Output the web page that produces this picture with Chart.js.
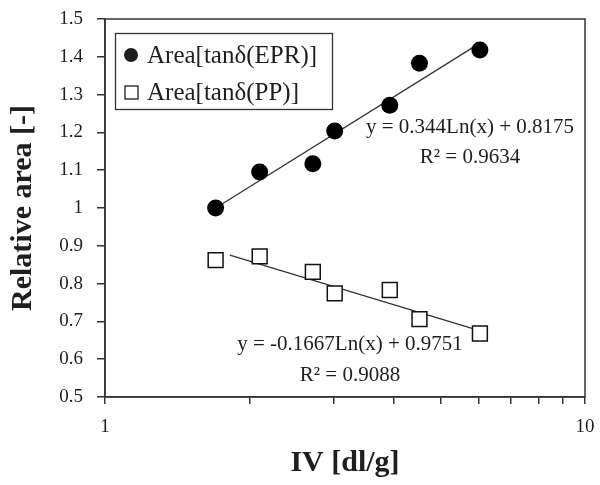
<!DOCTYPE html>
<html>
<head>
<meta charset="utf-8">
<script src="https://cdn.jsdelivr.net/npm/chart.js@4/dist/chart.umd.min.js"></script>
<style>
  html, body { margin: 0; padding: 0; background: #fff; }
  #wrap { width: 600px; height: 485px; }
</style>
</head>
<body>
<div id="wrap"><canvas id="myChart"></canvas></div>
<script>
// data
const ivValues = [1.70, 2.10, 2.71, 3.01, 3.92, 4.52, 6.04];
const areaEPR = [1.000, 1.095, 1.117, 1.204, 1.272, 1.383, 1.418];
const areaPP = [0.862, 0.872, 0.831, 0.774, 0.783, 0.706, 0.668];
const yTicks = [0.5, 0.6, 0.7, 0.8, 0.9, 1, 1.1, 1.2, 1.3, 1.4, 1.5];
const xTicks = [1, 2, 3, 4, 5, 6, 7, 8, 9, 10];
const xLabels = [1, 10];

// log trend lines, y = a*ln(x) + b
const trendEPR = { a: 0.344, b: 0.8175, from: 1.70, to: 6.04 };
const trendPP = { a: -0.1667, b: 0.9751, from: 1.82, to: 6.10 };
const seriesNames = ['Area[tanδ(EPR)]', 'Area[tanδ(PP)]'];
const eqTexts = [
  ['y = 0.344Ln(x) + 0.8175', 'R² = 0.9634'],
  ['y = -0.1667Ln(x) + 0.9751', 'R² = 0.9088']
];

const serif = '"Liberation Serif", "DejaVu Serif", serif';
const ink = '#1e1e1e';

function trendPoints(t) {
  return [t.from, t.to].map(x => ({ x: x, y: t.a * Math.log(x) + t.b }));
}

// legend box, equations and plot frame
const extras = {
  id: 'extras',
  afterDatasetsDraw(chart) {
    const ctx = chart.ctx;
    const a = chart.chartArea;
    ctx.save();
    ctx.strokeStyle = '#333';
    ctx.lineWidth = 1.5;
    ctx.strokeRect(a.left, a.top, a.right - a.left, a.bottom - a.top);

    // legend
    ctx.lineWidth = 1.3;
    ctx.strokeRect(115.5, 33.5, 217, 76);
    ctx.font = '25px ' + serif;
    ctx.fillStyle = ink;
    ctx.textBaseline = 'middle';
    ctx.textAlign = 'left';
    ctx.beginPath();
    ctx.arc(131, 55, 7, 0, Math.PI * 2);
    ctx.fill();
    ctx.fillText(seriesNames[0], 147, 56);
    ctx.strokeStyle = ink;
    ctx.lineWidth = 1.3;
    ctx.strokeRect(125, 86, 13, 13);
    ctx.fillText(seriesNames[1], 147, 93);

    // equations
    ctx.font = '21px ' + serif;
    ctx.textAlign = 'center';
    ctx.fillText(eqTexts[0][0], 470, 127);
    ctx.fillText(eqTexts[0][1], 470, 157);
    ctx.fillText(eqTexts[1][0], 350, 344);
    ctx.fillText(eqTexts[1][1], 350, 375);
    ctx.restore();
  }
};

const ctx = document.getElementById('myChart').getContext('2d');
new Chart(ctx, {
  type: 'scatter',
  data: {
    datasets: [
      {
        label: seriesNames[0],
        data: ivValues.map((x, i) => ({ x: x, y: areaEPR[i] })),
        pointStyle: 'circle',
        pointRadius: 8.5,
        backgroundColor: '#000',
        borderColor: '#000',
        borderWidth: 0
      },
      {
        label: seriesNames[1],
        data: ivValues.map((x, i) => ({ x: x, y: areaPP[i] })),
        pointStyle: 'rect',
        pointRadius: 10.5,
        backgroundColor: '#fff',
        borderColor: '#111',
        borderWidth: 1.5
      },
      {
        label: 'trend EPR',
        data: trendPoints(trendEPR),
        showLine: true,
        pointRadius: 0,
        borderColor: '#333',
        borderWidth: 1.3
      },
      {
        label: 'trend PP',
        data: trendPoints(trendPP),
        showLine: true,
        pointRadius: 0,
        borderColor: '#333',
        borderWidth: 1.3
      }
    ]
  },
  options: {
    responsive: true,
    maintainAspectRatio: false,
    animation: false,
    layout: { padding: { left: 0, top: 19, right: 15, bottom: 0 } },
    plugins: {
      legend: { display: false },
      tooltip: { enabled: false }
    },
    scales: {
      x: {
        type: 'logarithmic',
        min: 1,
        max: 10,
        afterFit: (scale) => {
          scale.height = 88;
          scale.paddingLeft = 0;
          scale.paddingRight = 0;
        },
        afterBuildTicks: (scale) => { scale.ticks = xTicks.map(v => ({ value: v })); },
        ticks: {
          autoSkip: false,
          maxRotation: 0,
          padding: 12,
          color: ink,
          font: { family: serif, size: 19 },
          callback: (v) => xLabels.includes(v) ? String(v) : ''
        },
        grid: { drawOnChartArea: false, tickLength: 7, color: '#333', lineWidth: 1.5 },
        border: { color: '#333', width: 1.5 },
        title: {
          display: true,
          text: 'IV [dl/g]',
          color: ink,
          font: { family: serif, size: 30, weight: 'bold' },
          padding: { top: 0, bottom: 4 }
        }
      },
      y: {
        min: 0.5,
        max: 1.5,
        afterFit: (scale) => {
          scale.width = 105;
          scale.paddingTop = 0;
          scale.paddingBottom = 0;
        },
        afterBuildTicks: (scale) => { scale.ticks = yTicks.map(v => ({ value: v })); },
        ticks: {
          padding: 14,
          color: ink,
          font: { family: serif, size: 19 },
          callback: (v) => String(Math.round(v * 10) / 10)
        },
        grid: { drawOnChartArea: false, tickLength: 8, color: '#333', lineWidth: 1.5 },
        border: { color: '#333', width: 1.5 },
        title: {
          display: true,
          text: 'Relative area [-]',
          color: ink,
          font: { family: serif, size: 30, weight: 'bold' },
          padding: { top: 5, bottom: 0 }
        }
      }
    }
  },
  plugins: [extras]
});
</script>
</body>
</html>
